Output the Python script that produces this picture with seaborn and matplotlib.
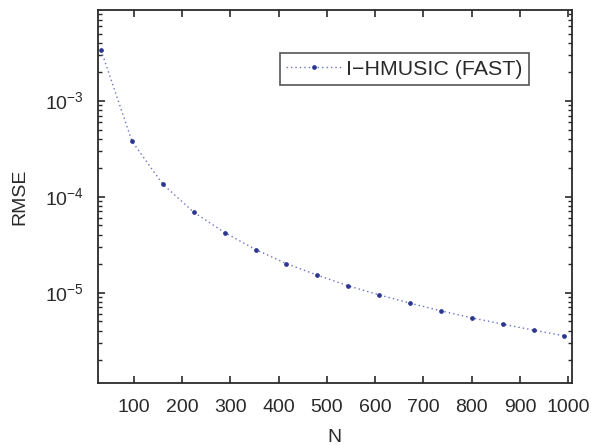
import matplotlib
matplotlib.use("Agg")
import matplotlib.pyplot as plt
import seaborn as sns
import pandas as pd
import numpy as np
from matplotlib.ticker import LogLocator, NullFormatter

N = [32, 96, 160, 224, 288, 352, 416, 480, 544, 608, 672, 736, 800, 864, 928, 992]
rmse = [3.35e-3, 3.78e-4, 1.345e-4, 6.88e-5, 4.22e-5, 2.81e-5, 2.0e-5, 1.52e-5,
        1.175e-5, 9.46e-6, 7.76e-6, 6.45e-6, 5.45e-6, 4.69e-6, 4.06e-6, 3.54e-6]
series_name = "I\u2212HMUSIC (FAST)"
xticks = [100, 200, 300, 400, 500, 600, 700, 800, 900, 1000]

sns.set_style("ticks")
plt.rcParams['font.family'] = ['Liberation Sans', 'DejaVu Sans']
txt = '#2a2a2a'
plt.rcParams['text.color'] = txt
plt.rcParams['axes.labelcolor'] = txt
plt.rcParams['xtick.color'] = txt
plt.rcParams['ytick.color'] = txt

df = pd.DataFrame({"N": N, "RMSE": rmse, "series": series_name})

fig = plt.figure(figsize=(5.91, 4.45), dpi=100)
ax = fig.add_axes([0.1653, 0.14, 0.802, 0.8375])

sns.lineplot(data=df, x="N", y="RMSE", hue="series", palette=["#6a70c8"],
             linestyle=(0, (1, 2.2)), linewidth=1.0, marker="o", markersize=2.6,
             markerfacecolor="#2a3590", markeredgecolor="#2a3590", ax=ax)

ax.set_yscale("log")
ax.set_xlim(25, 1007)
ax.set_ylim(1.15e-6, 8.8e-3)
ax.set_xticks(xticks)
ax.yaxis.set_major_locator(LogLocator(base=10, numticks=10))
ax.yaxis.set_minor_locator(LogLocator(base=10, subs=np.arange(2, 10), numticks=20))
ax.yaxis.set_minor_formatter(NullFormatter())

for s in ax.spines.values():
    s.set_visible(True)
    s.set_linewidth(1.3)
    s.set_color(txt)
ax.tick_params(which='both', direction='in', top=True, right=True, labelsize=14)
ax.tick_params(which='major', length=5, width=1.2)
ax.tick_params(which='minor', length=3, width=1.0)
ax.tick_params(axis='x', pad=12)
ax.tick_params(axis='y', pad=10)

ax.set_xlabel("N", fontsize=14, labelpad=9)
ax.set_ylabel("RMSE", fontsize=14, labelpad=12)

leg = ax.legend(loc='upper right', bbox_to_anchor=(0.91, 0.884), borderaxespad=0,
                fontsize=15.4, frameon=True, fancybox=False, handlelength=2.6,
                handletextpad=0.2, borderpad=0.3)
leg.get_frame().set_edgecolor(txt)
leg.get_frame().set_linewidth(1.2)
leg.set_title(None)

fig.savefig("out.png", dpi=100)
